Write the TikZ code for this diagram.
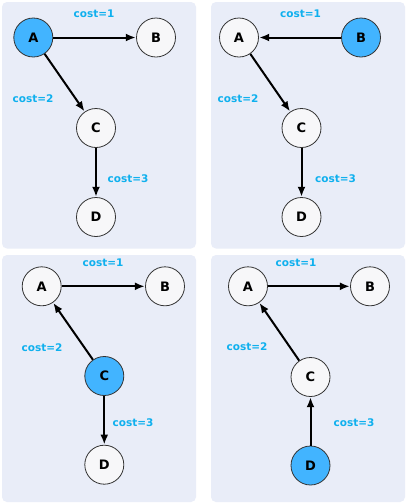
\documentclass[tikz,border=0pt]{standalone}
\usepackage{fontspec}
\setmainfont{DejaVu Sans}
\usetikzlibrary{arrows.meta}
\definecolor{panelbg}{HTML}{E9EDF8}
\definecolor{hl}{HTML}{42B4FF}
\definecolor{costc}{HTML}{0FB0EE}
\definecolor{nodebg}{HTML}{F7F7F9}
\tikzset{
  panel/.style={fill=panelbg, rounded corners=5pt, draw=none},
  vtx/.style={circle, draw=black!80, line width=0.8pt, fill=nodebg, minimum size=39pt, inner sep=0pt, font=\fontsize{13}{15}\selectfont\bfseries},
  hot/.style={vtx, fill=hl},
  edge/.style={line width=2pt, -{Latex[length=10pt,width=8pt]}, shorten >=0.3pt},
  cost/.style={text=costc, font=\fontsize{10.5}{12}\selectfont\bfseries, inner sep=0pt}
}
\begin{document}
\begin{tikzpicture}[x=1pt,y=-1pt]
\useasboundingbox (0,0) rectangle (407,504);
\fill[white] (0,0) rectangle (407,504);
\path[panel] (2,2) rectangle (196,248.5);
\path[panel] (211,2) rectangle (405,248.5);
\path[panel] (2,255) rectangle (196,502);
\path[panel] (211,255) rectangle (405,502);
% panel 1
\node[hot] (a1) at (33.3,37.5) {A};
\node[vtx] (b1) at (156,37.5) {B};
\node[vtx] (c1) at (96,128) {C};
\node[vtx] (d1) at (96,217) {D};
\draw[edge] (a1) -- (b1);
\draw[edge] (a1) -- (c1);
\draw[edge] (c1) -- (d1);
\node[cost] (l11) at (94,14) {cost=1};
\node[cost] (l12) at (33,99) {cost=2};
\node[cost] (l13) at (128,179) {cost=3};
% panel 2
\node[vtx] (a2) at (239,37.5) {A};
\node[hot] (b2) at (361,37.5) {B};
\node[vtx] (c2) at (301.5,128) {C};
\node[vtx] (d2) at (301.5,217) {D};
\draw[edge] (b2) -- (a2);
\draw[edge] (a2) -- (c2);
\draw[edge] (c2) -- (d2);
\node[cost] (l21) at (300.5,14) {cost=1};
\node[cost] (l22) at (238,99) {cost=2};
\node[cost] (l23) at (335.5,179) {cost=3};
% panel 3
\node[vtx] (a3) at (41.7,286.3) {A};
\node[vtx] (b3) at (165,286.3) {B};
\node[hot] (c3) at (104.3,376) {C};
\node[vtx] (d3) at (104.3,464.7) {D};
\draw[edge] (a3) -- (b3);
\draw[edge] (c3) -- (a3);
\draw[edge] (c3) -- (d3);
\node[cost] (l31) at (103,263) {cost=1};
\node[cost] (l32) at (42,348) {cost=2};
\node[cost] (l33) at (133,423) {cost=3};
% panel 4
\node[vtx] (a4) at (248,286.3) {A};
\node[vtx] (b4) at (370,286.3) {B};
\node[vtx] (c4) at (310.5,377) {C};
\node[hot] (d4) at (310.5,465.5) {D};
\draw[edge] (a4) -- (b4);
\draw[edge] (c4) -- (a4);
\draw[edge] (d4) -- (c4);
\node[cost] (l41) at (296,263) {cost=1};
\node[cost] (l42) at (247,347) {cost=2};
\node[cost] (l43) at (354,423) {cost=3};
\end{tikzpicture}
\end{document}
